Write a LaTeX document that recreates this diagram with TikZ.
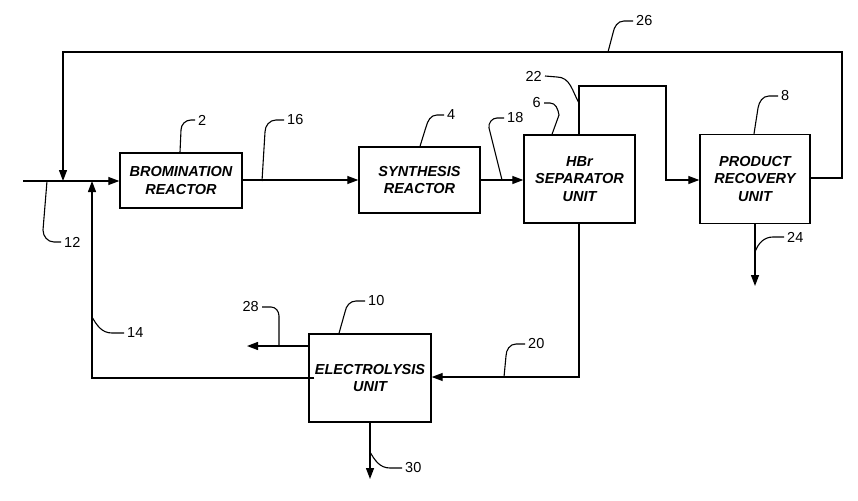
\documentclass[tikz,border=0pt]{standalone}
\usepackage{fontspec}
\setmainfont{Liberation Sans}
\usetikzlibrary{arrows.meta}
\tikzset{
  unit/.style={draw, line width=1.4pt, inner sep=0pt, align=center,
    font=\fontsize{14.5}{17.5}\selectfont\bfseries\itshape},
  flow/.style={line width=1.3pt},
  arr/.style={flow, -{Triangle[length=11pt,width=8pt]}},
  lead/.style={line width=1.1pt},
  num/.style={inner sep=0pt, font=\fontsize{14.5}{16}\selectfont}
}
\begin{document}
\begin{tikzpicture}[x=1pt,y=-1pt]
\useasboundingbox (0,0) rectangle (858,500);
% units
\node[unit, minimum width=122pt, minimum height=55pt] (brom) at (181,180.5) {BROMINATION\\REACTOR};
\node[unit, minimum width=121pt, minimum height=66pt] (synth) at (419.5,180) {SYNTHESIS\\REACTOR};
\node[unit, minimum width=111pt, minimum height=88pt] (hbr) at (579.5,179) {HBr\\SEPARATOR\\UNIT};
\node[unit, minimum width=110pt, minimum height=89pt] (prod) at (755,179) {PRODUCT\\RECOVERY\\UNIT};
\node[unit, minimum width=122pt, minimum height=88pt] (elec) at (370,378) {ELECTROLYSIS\\UNIT};
% coordinates
\coordinate (feed) at (23,181);
\coordinate (j1) at (63,181);
\coordinate (j2) at (92,181);
\coordinate (t1) at (842,52);
\coordinate (t2) at (63,52);
\coordinate (h1) at (579,86);
\coordinate (h2) at (666,86);
\coordinate (h3) at (579,377);
\coordinate (o24) at (755,286);
\coordinate (o30) at (370,479);
\coordinate (o28) at (247,346);
\coordinate (r14) at (92,378);
% main flow
\draw[arr] (feed) -- (brom.west |- feed);
\draw[arr] (brom.east |- 0,180) -- (synth.west |- 0,180);
\draw[arr] (synth.east |- 0,180) -- (hbr.west |- 0,180);
% HBr top to product recovery
\draw[arr] (hbr.north -| h1) -- (h1) -- (h2) |- (prod.west |- 0,180);
% recycle 26
\draw[arr] (prod.east |- 0,178) -| (t1) -- (t2) -- (j1);
% HBr bottom to electrolysis
\draw[arr] (hbr.south -| h3) -- (h3) -- (elec.east |- h3);
% electrolysis recycle 14
\draw[arr] ([xshift=6pt]elec.west |- r14) -- (r14) -- (j2);
% outlets
\draw[arr] (prod.south -| o24) -- (o24);
\draw[arr] (elec.south -| o30) -- (o30);
\draw[arr] (elec.west |- o28) -- (o28);
% leaders and numbers
\node[num, anchor=west] (n12) at (64,242) {12};
\draw[lead] (47,181) -- (43,230) to[out=-90,in=180] (54,242) -- (61,242);
\node[num, anchor=west] (n2) at (198,120) {2};
\draw[lead] (brom.north -| 180,0) -- (181,130) to[out=90,in=180] (191,120) -- (195,120);
\node[num, anchor=west] (n16) at (287,120) {16};
\draw[lead] (262,181) -- (265,132) to[out=90,in=180] (276,120) -- (284,120);
\node[num, anchor=west] (n4) at (447,115) {4};
\draw[lead] (synth.north -| 420,0) -- (426,127) to[out=75,in=180] (437,115) -- (444,115);
\node[num, anchor=west] (n18) at (507,118) {18};
\draw[lead] (502,180) -- (489,128) to[out=100,in=180] (497,118) -- (504,118);
\node[num, anchor=east] (n6) at (541,103) {6};
\draw[lead] (hbr.north -| 552,0) -- (559,115) to[out=100,in=0] (550,103) -- (544,103);
\node[num, anchor=east] (n22) at (542,76) {22};
\draw[lead] (579,103) to[out=120,in=0] (557,77) -- (545,76);
\node[num, anchor=west] (n26) at (636,21) {26};
\draw[lead] (608,52) -- (613,33) to[out=80,in=180] (624,21) -- (633,21);
\node[num, anchor=west] (n8) at (781,96) {8};
\draw[lead] (prod.north -| 754,0) -- (758,108) to[out=80,in=180] (769,96) -- (778,96);
\node[num, anchor=west] (n24) at (787,237) {24};
\draw[lead] (755,252) to[out=70,in=180] (773,237) -- (784,237);
\node[num, anchor=west] (n10) at (368,301) {10};
\draw[lead] (elec.north -| 339,0) -- (345,312) to[out=80,in=180] (356,301) -- (365,301);
\node[num, anchor=west] (n20) at (528,344) {20};
\draw[lead] (504,377) -- (506,356) to[out=90,in=180] (516,344) -- (525,344);
\node[num, anchor=east] (n28) at (259,307) {28};
\draw[lead] (279,346) -- (279,316) to[out=90,in=0] (271,307) -- (262,307);
\node[num, anchor=west] (n14) at (127,333) {14};
\draw[lead] (92,317) to[out=-60,in=180] (112,333) -- (124,333);
\node[num, anchor=west] (n30) at (405,468) {30};
\draw[lead] (370,452) to[out=-60,in=180] (390,468) -- (402,468);
\end{tikzpicture}
\end{document}
